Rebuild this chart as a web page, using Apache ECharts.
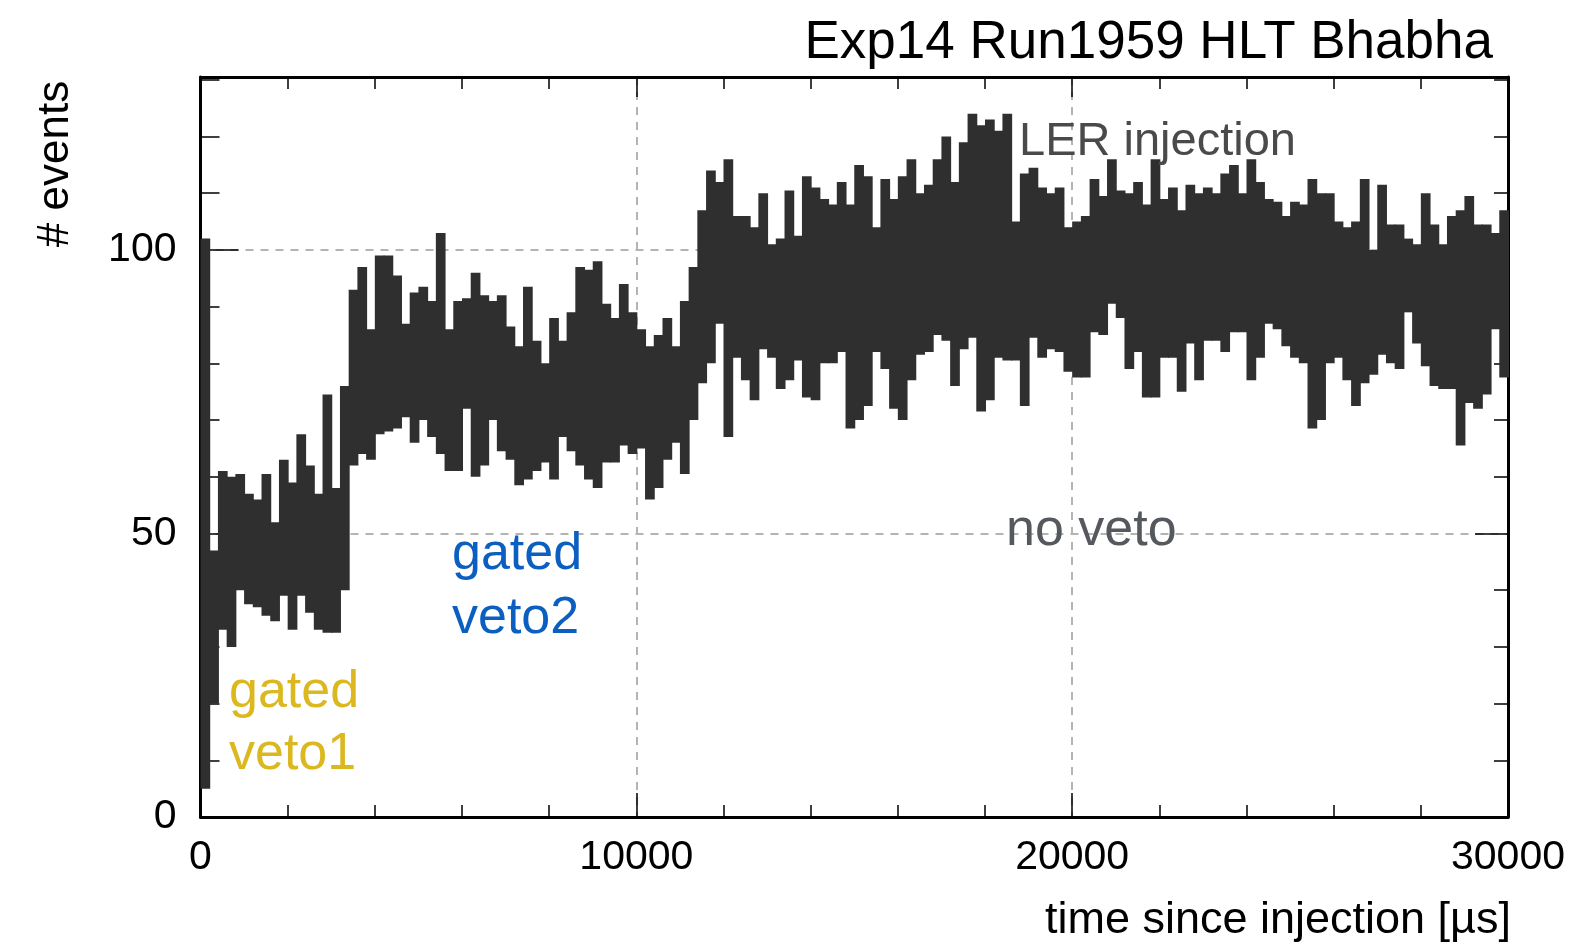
<!DOCTYPE html>
<html>
<head>
<meta charset="utf-8">
<script src="https://cdn.jsdelivr.net/npm/echarts/dist/echarts.min.js"></script>
<style>
html,body{margin:0;padding:0;background:#fff;}
#chart{width:1579px;height:945px;}
</style>
</head>
<body>
<div id="chart"></div>
<script>
// Histogram: time since injection, bins of 200 us from 0 to 30000 us.
const BIN_WIDTH = 200;
const X_MIN = 0, X_MAX = 30000;
const Y_MIN = 0, Y_MAX = 130.5;
const xMajorTicks = [0, 10000, 20000, 30000];
const yMajorTicks = [0, 50, 100];

// Upper edge of the dark band in each bin (# events)
const upper = [
102, 47, 61, 60, 60.5, 57, 56, 60.5, 52, 63,
59, 67.5, 62, 57, 74.5, 58, 76, 93, 97, 86,
99, 99, 95.5, 87, 92.5, 93.5, 91, 103, 86, 91,
91.5, 96, 92, 91, 92, 86.5, 83, 93.5, 84, 80,
88, 84, 89, 97, 96.5, 98, 90.5, 88, 94, 89,
86, 83, 85, 88, 83, 91, 97, 107, 114, 112,
116, 106, 106, 104, 110, 101, 102, 110.5, 102.5, 113,
111, 109, 108, 112, 108, 115, 113, 104, 112.5, 109,
113, 116, 110, 111.5, 116, 120, 112, 119, 124, 122,
123, 121, 124, 105, 113.5, 114.5, 111, 110, 111, 104,
105, 106, 112.5, 109.5, 116, 110.5, 110, 112, 108, 116,
109, 111, 107, 111.5, 110, 111, 110, 113.5, 115, 110,
116, 112, 109, 108.5, 106, 108.5, 108, 112.5, 110, 110,
105, 104, 105, 112.5, 100, 111.5, 104.5, 104.5, 102, 101,
110, 104.5, 101, 106, 107, 109.5, 104.5, 104.5, 103, 107
];
// Lower edge of the dark band in each bin (# events)
const lower = [
5, 20, 33, 30, 40, 37.5, 37, 35.5, 34.5, 39,
33, 39, 36, 33, 32.5, 32.5, 40, 62, 64, 63,
67.5, 68, 68.5, 70.5, 66, 70, 67, 64, 61, 61,
72, 60, 62, 70, 64.5, 63, 58.5, 59.5, 61, 62.5,
59.5, 67, 64.5, 62, 59.5, 58, 62.5, 62.5, 65.5, 64,
65, 56, 58, 63, 66, 60.5, 70, 76.5, 80, 87,
67, 81, 77, 73.5, 82.5, 81, 75.5, 77, 80.5, 74,
73.5, 80, 80, 82, 68.5, 70, 72.5, 82, 79, 72,
70, 77, 81.5, 82, 85, 84, 76, 82.5, 84.5, 71.5,
73.5, 81, 80.5, 80.5, 72.5, 84.5, 81, 82.5, 82, 78.5,
77.5, 77.5, 85.5, 85, 90.5, 88, 79, 82, 74, 74,
81, 81, 75, 83.5, 77, 84, 84, 82, 85.5, 85.5,
77, 81, 87, 86, 83, 81, 80, 68.5, 70, 80,
81, 77, 72.5, 76.5, 78, 81.5, 80, 79, 89, 83.5,
79.5, 76, 75.5, 75.5, 65.5, 73, 72, 74.5, 86, 77.5
];

const FONT = '"Liberation Sans", Arial, Helvetica, sans-serif';

const binData = upper.map((hi, i) => [i * BIN_WIDTH, (i + 1) * BIN_WIDTH, lower[i], hi]);

function renderBin(params, api) {
  const p0 = api.coord([api.value(0), api.value(3)]);
  const p1 = api.coord([api.value(1), api.value(2)]);
  return {
    type: 'rect',
    shape: { x: p0[0], y: p0[1], width: p1[0] - p0[0] + 1, height: p1[1] - p0[1] },
    style: { fill: '#2f2f2f' }
  };
}

const dashed = { show: true, lineStyle: { type: [8, 7], color: '#b4b4b4', width: 2 } };
const frameLine = { show: true, onZero: false, lineStyle: { color: '#000', width: 3 } };
const noLine = { show: false, onZero: false };

function xAx(position, interval, tickLen, primary, labels) {
  return {
    type: 'value', min: X_MIN, max: X_MAX, interval: interval, position: position,
    axisLine: primary ? frameLine : noLine,
    axisTick: { show: true, inside: true, length: tickLen, lineStyle: { color: '#000', width: 1.5 } },
    axisLabel: labels ? { show: true, fontSize: 41, margin: 20, color: '#000', fontFamily: FONT,
      formatter: v => (xMajorTicks.indexOf(v) >= 0 ? String(v) : '') } : { show: false },
    splitLine: labels ? dashed : { show: false }
  };
}
function yAx(position, interval, tickLen, primary, labels) {
  return {
    type: 'value', min: Y_MIN, max: Y_MAX, interval: interval, position: position,
    axisLine: primary ? frameLine : noLine,
    axisTick: { show: true, inside: true, length: tickLen, lineStyle: { color: '#000', width: 1.5 } },
    axisLabel: labels ? { show: true, fontSize: 41, margin: 24, color: '#000', fontFamily: FONT,
      showMaxLabel: false,
      formatter: v => (yMajorTicks.indexOf(v) >= 0 ? String(v) : '') } : { show: false },
    splitLine: labels ? dashed : { show: false }
  };
}

const chart = echarts.init(document.getElementById('chart'), null, { renderer: 'canvas' });
chart.setOption({
  backgroundColor: '#fff',
  animation: false,
  grid: { left: 200.5, right: 71, top: 77, bottom: 128, containLabel: false },
  xAxis: [
    xAx('bottom', 10000, 24, true, true),
    xAx('bottom', 2000, 12, false, false),
    xAx('top', 10000, 20, true, false),
    xAx('top', 2000, 12, false, false)
  ],
  yAxis: [
    yAx('left', 50, 38, true, true),
    yAx('left', 10, 19, false, false),
    yAx('right', 50, 33, true, false),
    yAx('right', 10, 14, false, false)
  ],
  series: [{
    type: 'custom',
    xAxisIndex: 0, yAxisIndex: 0,
    renderItem: renderBin,
    encode: { x: [0, 1], y: [2, 3] },
    data: binData,
    clip: true,
    z: 2
  }],
  graphic: [
    { type: 'text', x: 1493, y: 43, z: 10,
      style: { text: 'Exp14 Run1959 HLT Bhabha', font: '53px ' + FONT, fill: '#000', textAlign: 'right', textVerticalAlign: 'middle' } },
    { type: 'text', x: 56, y: 164, rotation: Math.PI / 2, z: 10,
      style: { text: '# events', font: '44px ' + FONT, fill: '#000', textAlign: 'center', textVerticalAlign: 'middle' } },
    { type: 'text', x: 1511, y: 921, z: 10,
      style: { text: 'time since injection [\u00b5s]', font: '45px ' + FONT, fill: '#000', textAlign: 'right', textVerticalAlign: 'middle' } },
    { type: 'text', x: 1019, y: 142, z: 10,
      style: { text: 'LER injection', font: '47px ' + FONT, fill: '#4a4a4a', textAlign: 'left', textVerticalAlign: 'middle' } },
    { type: 'text', x: 1006, y: 531, z: 10,
      style: { text: 'no veto', font: '52px ' + FONT, fill: '#55595e', textAlign: 'left', textVerticalAlign: 'middle' } },
    { type: 'text', x: 452, y: 555, z: 10,
      style: { text: 'gated', font: '52px ' + FONT, fill: '#0b5fc0', textAlign: 'left', textVerticalAlign: 'middle' } },
    { type: 'text', x: 452, y: 619, z: 10,
      style: { text: 'veto2', font: '52px ' + FONT, fill: '#0b5fc0', textAlign: 'left', textVerticalAlign: 'middle' } },
    { type: 'text', x: 229, y: 693, z: 10,
      style: { text: 'gated', font: '52px ' + FONT, fill: '#dbb81f', textAlign: 'left', textVerticalAlign: 'middle' } },
    { type: 'text', x: 229, y: 755, z: 10,
      style: { text: 'veto1', font: '52px ' + FONT, fill: '#dbb81f', textAlign: 'left', textVerticalAlign: 'middle' } }
  ]
});
</script>
</body>
</html>
